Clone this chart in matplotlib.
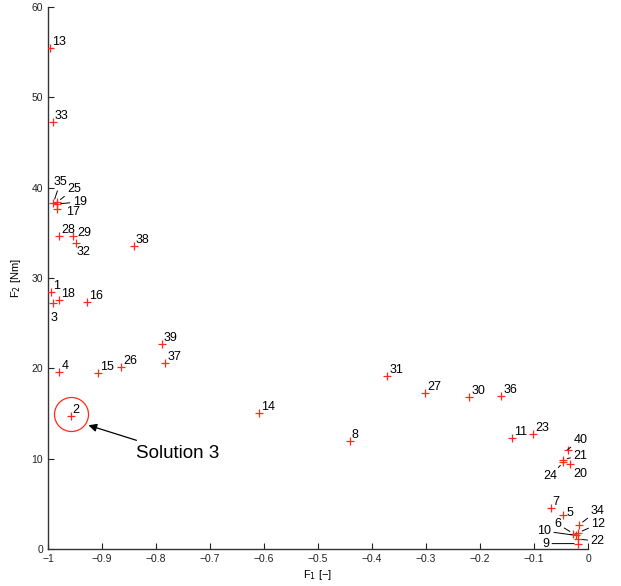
import numpy as np
import matplotlib
matplotlib.use('Agg')
import matplotlib.pyplot as plt

# solution ids and objective values
ids = list(range(1, 41))
f1 = [-0.994, -0.958, -0.990, -0.979, -0.046, -0.027, -0.069, -0.441, -0.018, -0.022,
      -0.141, -0.018, -0.996, -0.609, -0.907, -0.927, -0.984, -0.979, -0.984, -0.033,
      -0.046, -0.018, -0.101, -0.046, -0.983, -0.865, -0.302, -0.979, -0.953, -0.220,
      -0.372, -0.949, -0.991, -0.016, -0.990, -0.161, -0.783, -0.841, -0.789, -0.038]
f2 = [28.4, 14.7, 27.2, 19.6, 3.8, 1.7, 4.5, 12.0, 0.6, 1.5,
      12.3, 1.8, 55.5, 15.1, 19.5, 27.3, 37.6, 27.6, 38.2, 9.4,
      9.9, 1.1, 12.7, 9.6, 38.4, 20.2, 17.3, 34.7, 34.7, 16.8,
      19.2, 33.9, 47.3, 2.7, 38.3, 16.9, 20.6, 33.6, 22.7, 11.0]

highlight_id = 2
highlight_text = 'Solution 3'

# label placement in pixels relative to marker: (dx, dy, ha, leader line)
default_off = (2, 3, 'left', False)
label_offsets = {
    3: (-2.5, -18, 'left', False),
    17: (9, -6, 'left', False),
    32: (1.5, -12, 'left', False),
    29: (4, 0, 'left', False),
    20: (3, -13, 'left', False),
    5: (3, -1, 'left', False),
    24: (-6, -17, 'right', True),
    9: (-29, -3, 'right', True),
    10: (-25, 1.5, 'right', True),
    6: (-12, 6.5, 'right', True),
    34: (11, 11, 'left', True),
    12: (13, 6, 'left', True),
    22: (12, -5, 'left', True),
    40: (6, 7, 'left', True),
    21: (10, 1, 'left', True),
    35: (0, 18, 'left', True),
    25: (10, 10.5, 'left', True),
    19: (16, -1, 'left', True),
}

fig = plt.figure(figsize=(6.21, 5.86), dpi=100)
ax = fig.add_axes([0.0773, 0.0631, 0.8696, 0.9249])

ax.plot(f1, f2, '+', color='#ff2a1a', markersize=6, markeredgewidth=0.9, zorder=3)

for i, x, y in zip(ids, f1, f2):
    dx, dy, ha, leader = label_offsets.get(i, default_off)
    arrow = None
    if leader:
        arrow = dict(arrowstyle='-', color='black', lw=0.7, shrinkA=0, shrinkB=3)
    ax.annotate(str(i), xy=(x, y), xytext=(dx, dy), textcoords='offset pixels',
                ha=ha, va='baseline', fontsize=9, family='Liberation Sans',
                arrowprops=arrow)

# circle around the highlighted solution and callout
k = ids.index(highlight_id)
ax.plot(f1[k] + 0.001, f2[k] + 0.3, 'o', markersize=24.5, markerfacecolor='none',
        markeredgecolor='#ff2a1a', markeredgewidth=0.9, zorder=2)
ax.annotate(highlight_text, xy=(-0.925, 13.7), xytext=(-0.837, 10.6),
            ha='left', va='center', fontsize=13.5, family='Liberation Sans',
            arrowprops=dict(arrowstyle='-|>', color='black', lw=0.9,
                            mutation_scale=12, shrinkA=4, shrinkB=0))

ax.set_xlim(-1, 0)
ax.set_ylim(0, 60)
ax.set_xticks(np.round(np.arange(-1, 0.01, 0.1), 1))
ax.set_xticklabels(['\u22121'] + ['\u22120.%d' % d for d in range(9, 0, -1)] + ['0'])
ax.set_yticks(range(0, 61, 10))

for s in ['top', 'right']:
    ax.spines[s].set_visible(False)
for s in ['left', 'bottom']:
    ax.spines[s].set_color('#333333')
    ax.spines[s].set_linewidth(1.0)

ax.tick_params(direction='in', length=4, width=0.8, labelsize=7.5, colors='#222222')
for lab in ax.get_xticklabels() + ax.get_yticklabels():
    lab.set_family('Liberation Sans')

ax.set_xlabel('F$_1$ [\u2212]', fontsize=8, family='Liberation Sans', labelpad=3)
ax.set_ylabel('F$_2$ [Nm]', fontsize=8, family='Liberation Sans', labelpad=6)

fig.savefig('out.png', dpi=100)
